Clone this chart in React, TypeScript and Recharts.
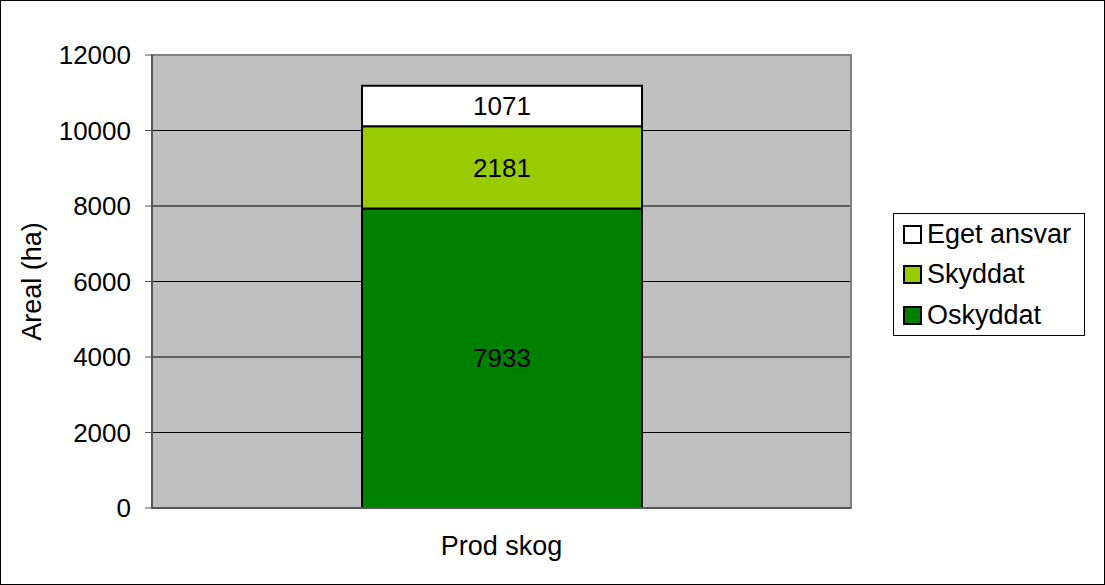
import { BarChart, Bar, XAxis, YAxis, CartesianGrid, Legend, LabelList, ReferenceArea } from 'recharts';

const categories = ['Prod skog'];
const oskyddat = [7933];
const skyddat = [2181];
const egetAnsvar = [1071];
const yTicks = [0, 2000, 4000, 6000, 8000, 10000, 12000];
const edgeTicks = [0, 1];
const legendOrder = ['Eget ansvar', 'Skyddat', 'Oskyddat'];

const FONT = '"Liberation Sans", Arial, sans-serif';
const FS = 26;

const data = categories.map((name, i) => ({
  name,
  Oskyddat: oskyddat[i],
  Skyddat: skyddat[i],
  'Eget ansvar': egetAnsvar[i],
}));

const seriesColors: Record<string, string> = {
  Oskyddat: '#008000',
  Skyddat: '#99CC00',
  'Eget ansvar': '#FFFFFF',
};

function LegendBox() {
  return (
    <div style={{ border: '1px solid #000', background: '#fff', width: 192, height: 123, boxSizing: 'border-box', padding: '0 0 0 9px', fontFamily: FONT }}>
      {legendOrder.map((name) => (
        <div key={name} style={{ display: 'flex', alignItems: 'center', height: 40.5, fontSize: 27, color: '#000', whiteSpace: 'nowrap' }}>
          <span style={{ width: 15, height: 15, border: '2px solid #000', background: seriesColors[name], display: 'inline-block', marginRight: 5 }} />
          {name}
        </div>
      ))}
    </div>
  );
}

function YLabel(props: any) {
  const vb = props.viewBox || {};
  const cx = vb.x + 1;
  const cy = vb.y + vb.height / 2;
  return (
    <text x={cx} y={cy} transform={`rotate(-90, ${cx}, ${cy})`} textAnchor="middle" dominantBaseline="central" fontSize={27} fontFamily={FONT} fill="#000">
      Areal (ha)
    </text>
  );
}

export default function App() {
  return (
    <div style={{ position: 'absolute', left: 0, top: 0, width: 1105, height: 585, border: '1px solid #000', boxSizing: 'border-box', background: '#fff' }}>
      <BarChart width={1103} height={583} data={data} margin={{ top: 54, right: 253, left: 30, bottom: 0 }}>
        <CartesianGrid xAxisId="cat" vertical={false} stroke="#000" fill="#C0C0C0" fillOpacity={1} />
        <ReferenceArea xAxisId="cat" y1={0} y2={12000} fill="none" stroke="#808080" strokeWidth={2} />
        <XAxis xAxisId="edge" type="number" domain={[0, 1]} ticks={edgeTicks} tick={false} axisLine={false} tickLine={{ stroke: '#555' }} tickSize={8} height={0} />
        <XAxis xAxisId="cat" dataKey="name" height={76} tickSize={0} tickMargin={28} axisLine={{ stroke: '#555', strokeWidth: 2 }} tick={{ fontSize: 27, fontFamily: FONT, fill: '#000' }} />
        <YAxis width={121} domain={[0, 12000]} ticks={yTicks} interval={0} tickSize={7} tickMargin={14} axisLine={{ stroke: '#555', strokeWidth: 2 }} tickLine={{ stroke: '#555' }} tick={{ fontSize: FS, fontFamily: FONT, fill: '#000' }} label={<YLabel />} />
        <Legend layout="horizontal" align="center" verticalAlign="middle" content={<LegendBox />} wrapperStyle={{ position: 'absolute', left: 892, top: 212, width: 192, height: 123 }} />
        <Bar xAxisId="cat" dataKey="Oskyddat" stackId="a" fill="#008000" stroke="#000" strokeWidth={2} barSize={280} isAnimationActive={false}>
          <LabelList dataKey="Oskyddat" position="center" fill="#000" fontSize={FS} fontFamily={FONT} />
        </Bar>
        <Bar xAxisId="cat" dataKey="Skyddat" stackId="a" fill="#99CC00" stroke="#000" strokeWidth={2} barSize={280} isAnimationActive={false}>
          <LabelList dataKey="Skyddat" position="center" fill="#000" fontSize={FS} fontFamily={FONT} />
        </Bar>
        <Bar xAxisId="cat" dataKey="Eget ansvar" stackId="a" fill="#FFFFFF" stroke="#000" strokeWidth={2} barSize={280} isAnimationActive={false}>
          <LabelList dataKey="Eget ansvar" position="center" fill="#000" fontSize={FS} fontFamily={FONT} />
        </Bar>
      </BarChart>
    </div>
  );
}
